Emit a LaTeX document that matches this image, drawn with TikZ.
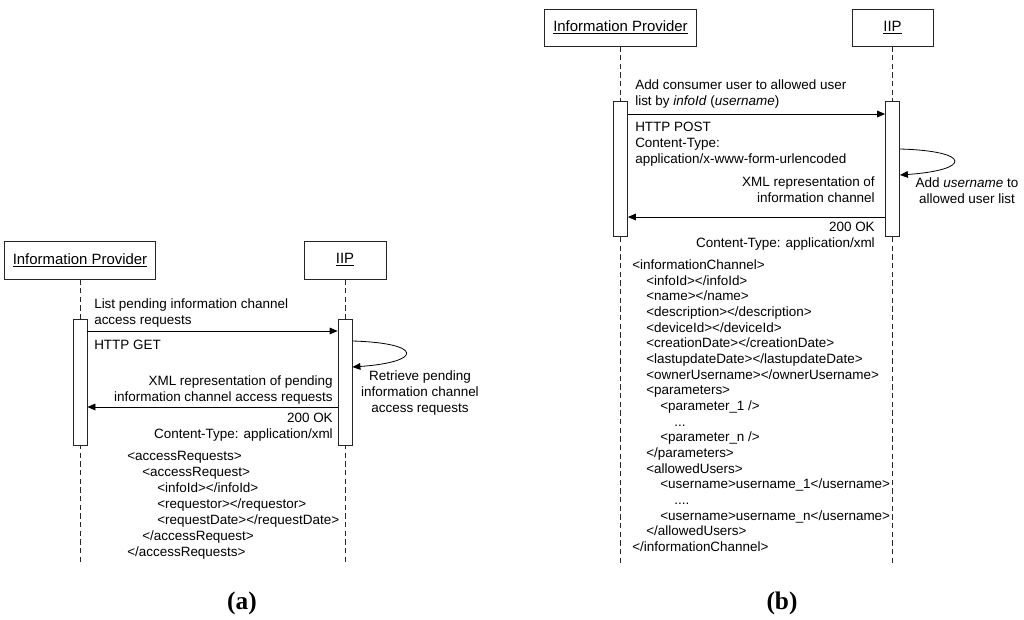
\documentclass[tikz,border=0pt]{standalone}
\usepackage{fontspec}
\setmainfont{Liberation Sans}
\newfontfamily\capfont{Liberation Serif}
\usetikzlibrary{arrows.meta}
\newcommand\xinda{\hspace*{11.25pt}}
\newcommand\xindb{\hspace*{10.5pt}}
\begin{document}
\begin{tikzpicture}[x=0.75pt,y=-0.75pt,
  actor/.style={draw=black!85, line width=0.6pt, fill=white, inner sep=0pt, font=\fontsize{11.2}{13}\selectfont},
  bar/.style={draw=black!85, fill=white, line width=0.6pt, minimum width=10.5pt, inner sep=0pt},
  lifeline/.style={draw=black!85, line width=0.6pt, dash pattern=on 4pt off 2.5pt},
  msg/.style={draw=black, line width=0.6pt, -{Triangle[length=6pt,width=5pt]}},
  lbl/.style={font=\fontsize{10.1}{12}\selectfont, inner sep=0pt},
  lblb/.style={font=\fontsize{10.1}{11.75}\selectfont, inner sep=0pt},
  captext/.style={font=\capfont\bfseries\fontsize{19}{22}\selectfont, inner sep=0pt}]
\useasboundingbox (0,0) rectangle (1024,619);

% ---------------- panel (a) ----------------
\node[actor, minimum width=113.25pt, minimum height=28.5pt] (ipa) at (80,260) {\underline{Information Provider}};
\node[actor, minimum width=61.5pt, minimum height=28.5pt] (iipa) at (345,260) {\underline{IIP}};
\coordinate (enda) at (80,565);
\coordinate (endb) at (345,565);
\draw[lifeline] (ipa.south) -- (enda);
\draw[lifeline] (iipa.south) -- (endb);
\node[bar, minimum height=94.5pt] (bara) at (80,382) {};
\node[bar, minimum height=94.5pt] (barb) at (345,382) {};

\coordinate (ya1) at (0,331);
\coordinate (ya2) at (0,407);
\coordinate (ya3) at (0,341);
\coordinate (ya4) at (0,367);
\draw[msg] (bara.east |- ya1) -- (barb.west |- ya1);
\draw[msg] (barb.east |- ya3) .. controls +(71,2) and +(71,-5) .. (barb.east |- ya4);
\draw[msg] (barb.west |- ya2) -- (bara.east |- ya2);

\node[lbl, align=left, anchor=north west] (la1) at (94,298.5) {List pending information channel\\access requests};
\node[lbl, align=left, anchor=north west] (la2) at (94,339.5) {HTTP GET};
\node[lbl, align=center, anchor=north] (la3) at (420,370.5) {Retrieve pending\\information channel\\access requests};
\node[lbl, align=right, anchor=north east] (la4) at (333,375.5) {XML representation of pending\\information channel access requests};
\node[lbl, align=right, anchor=north east] (la5) at (333,412.5) {200 OK\\Content-Type: application/xml};
\node[lbl, align=left, anchor=north west, font=\fontsize{10.1}{12}\selectfont] (xa) at (127,450.5) {%
<accessRequests>\\
\xinda<accessRequest>\\
\xinda\xinda<infoId></infoId>\\
\xinda\xinda<requestor></requestor>\\
\xinda\xinda<requestDate></requestDate>\\
\xinda</accessRequest>\\
</accessRequests>};

% ---------------- panel (b) ----------------
\node[actor, minimum width=114pt, minimum height=27.75pt] (ipb) at (620.5,27.5) {\underline{Information Provider}};
\node[actor, minimum width=60.75pt, minimum height=27.75pt] (iipb) at (892.5,27.5) {\underline{IIP}};
\coordinate (endc) at (620.5,566);
\coordinate (endd) at (892.5,566);
\draw[lifeline] (ipb.south) -- (endc);
\draw[lifeline] (iipb.south) -- (endd);
\node[bar, minimum height=101.25pt] (barc) at (620.5,168.5) {};
\node[bar, minimum height=101.25pt] (bard) at (892.5,168.5) {};

\coordinate (yb1) at (0,114);
\coordinate (yb2) at (0,217);
\coordinate (yb3) at (0,149);
\coordinate (yb4) at (0,175);
\draw[msg] (barc.east |- yb1) -- (bard.west |- yb1);
\draw[msg] (bard.east |- yb3) .. controls +(72,2) and +(72,-5) .. (bard.east |- yb4);
\draw[msg] (bard.west |- yb2) -- (barc.east |- yb2);

\node[lbl, align=left, anchor=north west] (lb1) at (635,79.5) {Add consumer user to allowed user\\list by \textit{infoId} (\textit{username})};
\node[lbl, align=left, anchor=north west, font=\fontsize{10.1}{12.3}\selectfont] (lb2) at (635,121.5) {HTTP POST\\Content-Type:\\application/x-www-form-urlencoded};
\node[lbl, align=center, anchor=north] (lb3) at (967,177.5) {Add \textit{username} to\\allowed user list};
\node[lbl, align=right, anchor=north east] (lb4) at (875,176.5) {XML representation of\\information channel};
\node[lbl, align=right, anchor=north east] (lb5) at (875,221.5) {200 OK\\Content-Type: application/xml};
\node[lblb, align=left, anchor=north west] (xb) at (632,259.5) {%
<informationChannel>\\
\xindb<infoId></infoId>\\
\xindb<name></name>\\
\xindb<description></description>\\
\xindb<deviceId></deviceId>\\
\xindb<creationDate></creationDate>\\
\xindb<lastupdateDate></lastupdateDate>\\
\xindb<ownerUsername></ownerUsername>\\
\xindb<parameters>\\
\xindb\xindb<parameter\_1 />\\
\xindb\xindb\xindb...\\
\xindb\xindb<parameter\_n />\\
\xindb</parameters>\\
\xindb<allowedUsers>\\
\xindb\xindb<username>username\_1</username>\\
\xindb\xindb\xindb....\\
\xindb\xindb<username>username\_n</username>\\
\xindb</allowedUsers>\\
</informationChannel>};

% captions
\node[captext] (capa) at (242,603) {(a)};
\node[captext] (capb) at (782,603) {(b)};
\end{tikzpicture}
\end{document}
